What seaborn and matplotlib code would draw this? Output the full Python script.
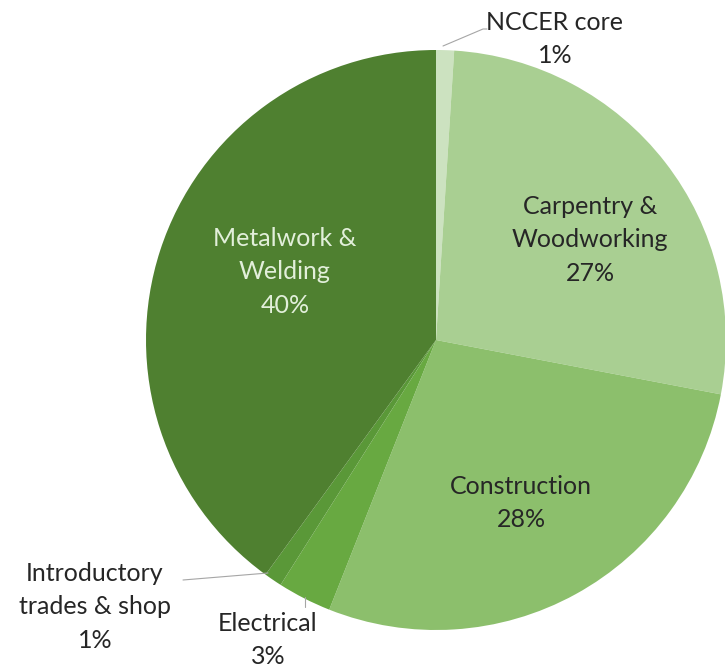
import numpy as np
import matplotlib.pyplot as plt
import seaborn as sns

sns.set_style('white')
plt.rcParams['font.family'] = ['Lato', 'DejaVu Sans']

# Data (clockwise from 12 o'clock)
categories = ['NCCER core', 'Carpentry &\nWoodworking', 'Construction',
              'Electrical', 'Introductory\ntrades & shop', 'Metalwork &\nWelding']
shares = [1, 27, 28, 3, 1, 40]
colors = ['#cce2c0', '#a9cf92', '#8cbf6c', '#68a941', '#5a9838', '#4f8030']

W, H = 725, 671
cx, cy, r = 436, 340, 290

fig = plt.figure(figsize=(W / 100, H / 100), dpi=100)
ax = fig.add_axes([(cx - r) / W, (H - cy - r) / H, 2 * r / W, 2 * r / H])

wedges, _ = ax.pie(shares, colors=colors, startangle=90, counterclock=False,
                   radius=1, wedgeprops=dict(linewidth=0))
ax.set_xlim(-1, 1)
ax.set_ylim(-1, 1)
ax.set_aspect('equal')
ax.axis('off')

def px(x, y):
    # pixel position -> data units around the pie centre
    return (x - cx) / r, (cy - y) / r

fs = 18
ls = 1.55
txt = dict(ha='center', va='center', fontsize=fs, linespacing=ls, clip_on=False)

# inside labels
ax.text(*px(590, 240), f'{categories[1]}\n{shares[1]}%', color='#262626', **txt)
ax.text(*px(521, 503), f'{categories[2]}\n{shares[2]}%', color='#262626', **txt)
ax.text(*px(285, 272), f'{categories[5]}\n{shares[5]}%', color='#e2efda', **txt)

# outside labels with leader lines
ax.text(*px(555, 39), f'{categories[0]}\n{shares[0]}%', color='#262626', **txt)
ax.plot(*zip(px(443, 46), px(483, 29), px(487, 29)), color='#a6a6a6', lw=0.8, clip_on=False)

ax.text(*px(95, 607), f'{categories[4]}\n{shares[4]}%', color='#262626', **txt)
ax.plot(*zip(px(268, 573), px(183, 580)), color='#a6a6a6', lw=0.8, clip_on=False)

ax.text(*px(268, 640), f'{categories[3]}\n{shares[3]}%', color='#262626', **txt)
ax.plot(*zip(px(305, 597), px(305, 607)), color='#a6a6a6', lw=0.8, clip_on=False)

fig.savefig('out.png', dpi=100)
